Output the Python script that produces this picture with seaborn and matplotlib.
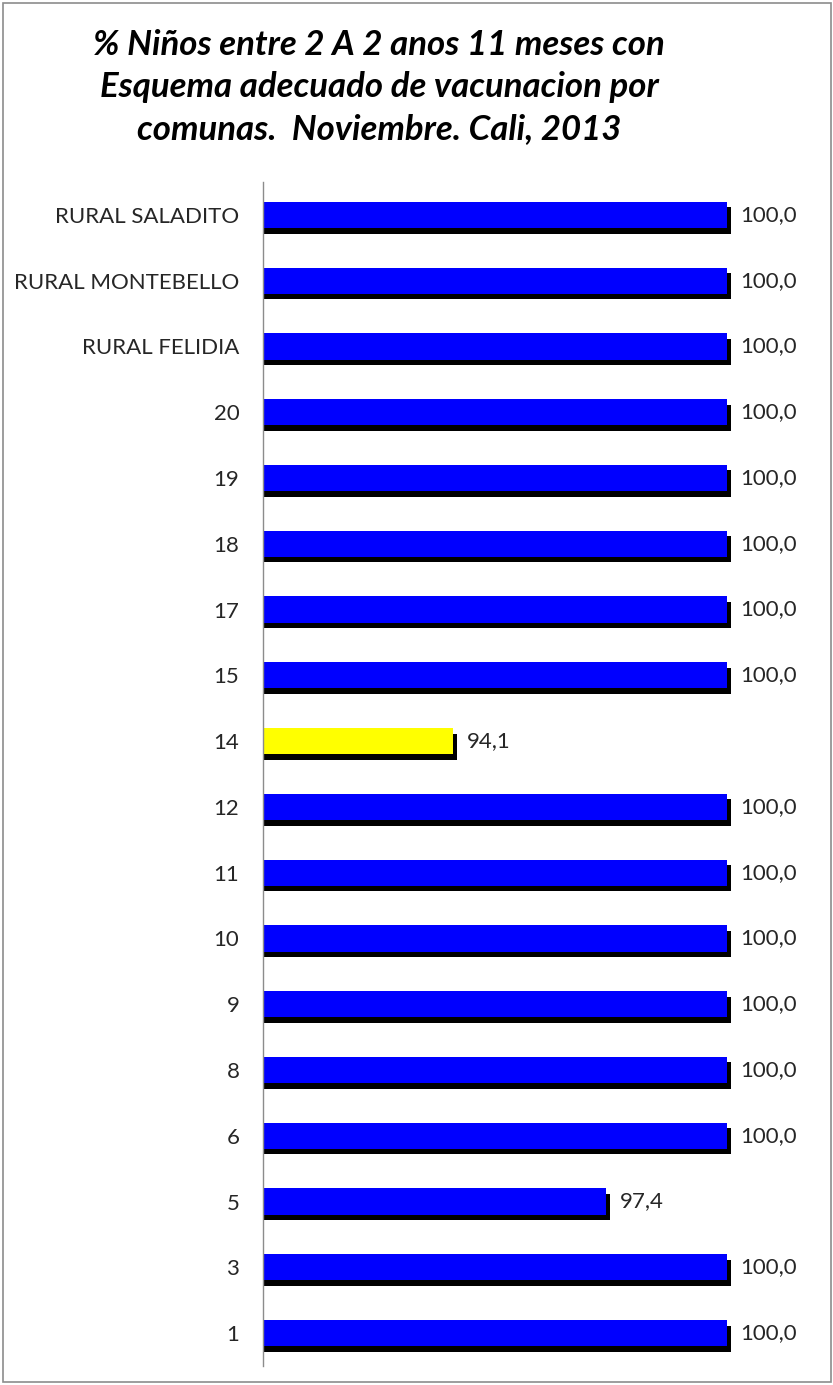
import matplotlib
matplotlib.use("Agg")
import matplotlib.pyplot as plt
import matplotlib.patheffects as pe
from matplotlib.patches import Rectangle
import seaborn as sns
import pandas as pd

categories = ["RURAL SALADITO", "RURAL MONTEBELLO", "RURAL FELIDIA", "20", "19", "18",
              "17", "15", "14", "12", "11", "10", "9", "8", "6", "5", "3", "1"]
values = [100.0, 100.0, 100.0, 100.0, 100.0, 100.0, 100.0, 100.0, 94.1,
          100.0, 100.0, 100.0, 100.0, 100.0, 100.0, 97.4, 100.0, 100.0]
highlight = "14"

df = pd.DataFrame({"comuna": categories, "pct": values})
palette = {c: ("#FFFF00" if c == highlight else "#0000FF") for c in categories}

sns.set_theme(style="white")
plt.rcParams["font.family"] = ["Lato", "DejaVu Sans"]

fig = plt.figure(figsize=(8.33, 13.85), dpi=100)
ax = fig.add_axes([263 / 833, 19 / 1385, (773 - 263) / 833, (1366 - 182) / 1385])

sns.barplot(data=df, x="pct", y="comuna", hue="comuna", palette=palette,
            order=categories, orient="h", width=0.4, legend=False, ax=ax,
            saturation=1, linewidth=0)

shadow = [pe.SimplePatchShadow(offset=(3, -4), shadow_rgbFace="black", alpha=1.0, rho=1.0),
          pe.Normal()]
for p in ax.patches:
    p.set_path_effects(shadow)

ax.set_xlim(90, 101)
ax.set_xlabel("")
ax.set_ylabel("")
ax.set_xticks([])
for s in ["top", "right", "bottom"]:
    ax.spines[s].set_visible(False)
ax.spines["left"].set_color("#8c8c8c")
ax.spines["left"].set_linewidth(1.0)
ax.tick_params(axis="y", length=0, pad=17, labelsize=16, labelcolor="#262626")

for cont in ax.containers:
    labels = [f"{v:.1f}".replace(".", ",") for v in cont.datavalues]
    ax.bar_label(cont, labels=labels, padding=10, fontsize=16, color="#262626")

fig.text(0.455, 0.979,
         "% Niños entre 2 A 2 anos 11 meses con\nEsquema adecuado de vacunacion por\ncomunas.  Noviembre. Cali, 2013",
         ha="center", va="top", fontsize=25, fontweight="bold", fontstyle="italic",
         linespacing=1.38, color="black")

fig.patches.append(Rectangle((0.004, 0.002), 0.993, 0.996, transform=fig.transFigure,
                             fill=False, edgecolor="#8c8c8c", linewidth=1.2))

fig.savefig("out.png", dpi=100, facecolor="white")
